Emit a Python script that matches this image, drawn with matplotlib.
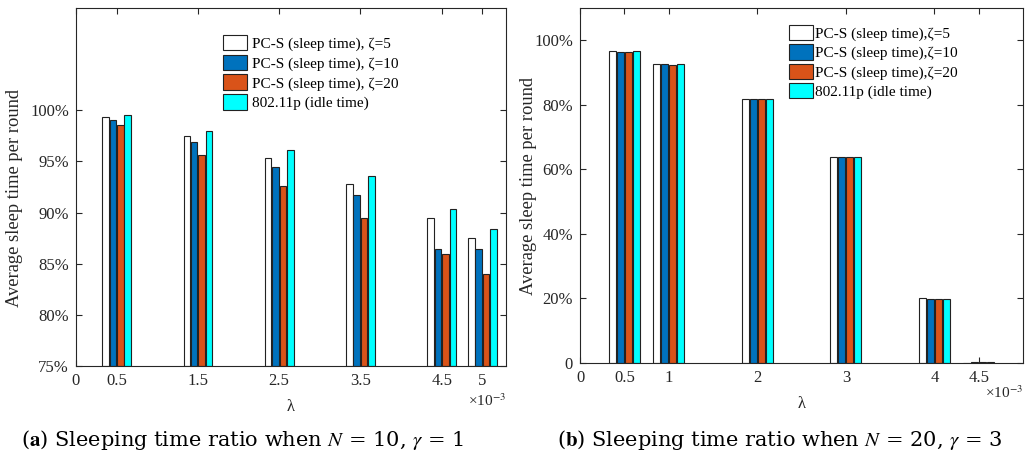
import numpy as np
import matplotlib
matplotlib.use("Agg")
import matplotlib.pyplot as plt

plt.rcParams['font.family'] = ['Liberation Serif', 'DejaVu Serif']
plt.rcParams['mathtext.fontset'] = 'stix'

# data (lambda in units of 1e-3, sleep ratio in %)
lam_a = [0.5, 1.5, 2.5, 3.5, 4.5, 5]
a_z5 = [99.3, 97.5, 95.3, 92.8, 89.5, 87.5]
a_z10 = [99.05, 96.9, 94.5, 91.7, 86.4, 86.4]
a_z20 = [98.6, 95.65, 92.6, 89.5, 85.9, 84.0]
a_idle = [99.5, 98.0, 96.1, 93.6, 90.35, 88.4]

lam_b = [0.5, 1, 2, 3, 4, 4.5]
b_z5 = [96.6, 92.55, 81.9, 63.9, 20.05, 0.1]
b_z10 = [96.4, 92.55, 81.8, 63.9, 19.95, 0.2]
b_z20 = [96.3, 92.2, 81.7, 63.9, 19.95, 0.3]
b_idle = [96.7, 92.65, 81.9, 63.9, 19.85, 0.4]

labels_a = ['PC-S (sleep time), \u03b6=5', 'PC-S (sleep time), \u03b6=10',
            'PC-S (sleep time), \u03b6=20', '802.11p (idle time)']
labels_b = ['PC-S (sleep time),\u03b6=5', 'PC-S (sleep time),\u03b6=10',
            'PC-S (sleep time),\u03b6=20', '802.11p (idle time)']
colors = ['white', '#0072BD', '#D95319', '#00FFFF']

xt_a = [0, 0.5, 1.5, 2.5, 3.5, 4.5, 5]
xt_b = [0, 0.5, 1, 2, 3, 4, 4.5]

fig = plt.figure(figsize=(10.25, 4.61), dpi=100)
ax1 = fig.add_axes([0.0741, 0.2061, 0.4195, 0.7766])
ax2 = fig.add_axes([0.5659, 0.2126, 0.4322, 0.770])

step = 0.091
width = 0.08
offs = (np.arange(4) - 1.5) * step
gray = '#262626'


def draw(ax, lam, series, labels, base):
    x = np.array(lam)
    for i, vals in enumerate(series):
        v = np.array(vals)
        ax.bar(x + offs[i], v - base, width, bottom=base, color=colors[i],
               edgecolor='#222222', linewidth=0.8, label=labels[i], zorder=2)
    ax.tick_params(direction='in', length=4, width=0.8, top=True, right=True,
                   labelsize=12, colors=gray, pad=5)
    for sp in ax.spines.values():
        sp.set_color(gray)
        sp.set_linewidth(0.8)
    ax.set_xlabel('\u03bb', fontsize=12, color=gray, labelpad=7)
    ax.set_ylabel('Average sleep time per round', fontsize=13.3, color=gray)


draw(ax1, lam_a, [a_z5, a_z10, a_z20, a_idle], labels_a, 75)
ax1.set_xlim(0, 5.29)
ax1.set_ylim(75, 110)
ax1.set_xticks(xt_a)
ax1.set_xticklabels([str(t) for t in xt_a])
ax1.set_yticks([75, 80, 85, 90, 95, 100])
ax1.set_yticklabels(['75%', '80%', '85%', '90%', '95%', '100%'])
ax1.yaxis.set_label_coords(-0.123, 0.469)
ax1.legend(loc='upper left', bbox_to_anchor=(0.342, 0.925), frameon=False,
           fontsize=11, handlelength=1.6, handleheight=1.2,
           handletextpad=0.3, labelspacing=0.24, borderpad=0, borderaxespad=0)
ax1.text(1.0, -0.075, '\u00d710$^{-3}$', transform=ax1.transAxes, ha='right',
         va='top', fontsize=11, color=gray)

draw(ax2, lam_b, [b_z5, b_z10, b_z20, b_idle], labels_b, 0)
ax2.set_xlim(0, 5.0)
ax2.set_ylim(0, 110)
ax2.set_xticks(xt_b)
ax2.set_xticklabels([str(t) for t in xt_b])
ax2.set_yticks([0, 20, 40, 60, 80, 100])
ax2.set_yticklabels(['0', '20%', '40%', '60%', '80%', '100%'])
ax2.yaxis.set_label_coords(-0.097, 0.5)
ax2.legend(loc='upper left', bbox_to_anchor=(0.471, 0.952), frameon=False,
           fontsize=11, handlelength=1.6, handleheight=1.15,
           handletextpad=0.1, labelspacing=0.22, borderpad=0, borderaxespad=0)
ax2.text(1.0, -0.06, '\u00d710$^{-3}$', transform=ax2.transAxes, ha='right',
         va='top', fontsize=11, color=gray)

fig.text(0.237, 0.045, r'($\mathbf{a}$) Sleeping time ratio when $N$ = 10, $\gamma$ = 1',
         ha='center', va='center', fontsize=15, color='black', family='DejaVu Serif')
fig.text(0.761, 0.045, r'($\mathbf{b}$) Sleeping time ratio when $N$ = 20, $\gamma$ = 3',
         ha='center', va='center', fontsize=15, color='black', family='DejaVu Serif')

fig.savefig('out.png', dpi=100)
